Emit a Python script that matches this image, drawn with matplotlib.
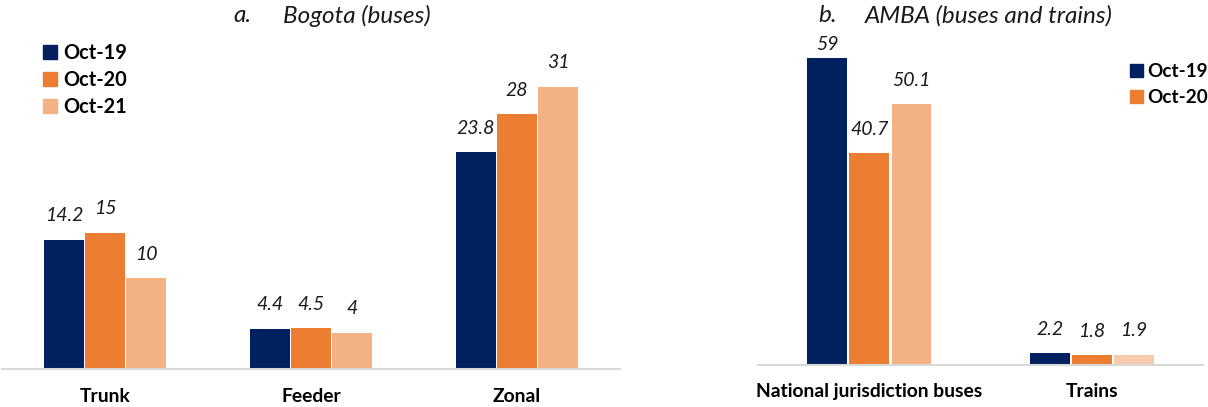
import matplotlib
matplotlib.use("Agg")
import matplotlib.pyplot as plt
import numpy as np
from matplotlib.patches import Patch

plt.rcParams["font.family"] = ["Lato", "DejaVu Sans"]

# Bogota (buses)
bog_categories = ["Trunk", "Feeder", "Zonal"]
bog_oct19 = [14.2, 4.4, 23.8]
bog_oct20 = [15, 4.5, 28]
bog_oct21 = [10, 4, 31]
bog_labels = ["Oct-19", "Oct-20", "Oct-21"]

# AMBA (buses and trains)
amba_categories = ["National jurisdiction buses", "Trains"]
amba_oct19 = [59, 2.2]
amba_oct20 = [40.7, 1.8]
amba_oct21 = [50.1, 1.9]
amba_labels = ["Oct-19", "Oct-20"]

NAVY = "#002060"
ORANGE = "#ED7D31"
PEACH = "#F4B183"
PEACH_LIGHT = "#F8CBAD"

W, H = 1208, 407
fig = plt.figure(figsize=(W / 100, H / 100), dpi=100)


def px_axes(x0, x1, y_top, y_base):
    return fig.add_axes([x0 / W, 1 - y_base / H, (x1 - x0) / W, (y_base - y_top) / H])


def style(ax, pad):
    for s in ["top", "right", "left"]:
        ax.spines[s].set_visible(False)
    ax.spines["bottom"].set_color("#D9D9D9")
    ax.spines["bottom"].set_linewidth(1.5)
    ax.set_yticks([])
    ax.tick_params(axis="x", length=0, pad=pad)
    for t in ax.get_xticklabels():
        t.set_fontweight("bold")
        t.set_fontsize(13.9)


def annotate(ax, xs, vals, offsets=None):
    for i, (x, v) in enumerate(zip(xs, vals)):
        off = 24 if offsets is None else offsets[i]
        ax.annotate(f"{v:g}", (x, v), xytext=(0, off * 0.72), textcoords="offset points",
                    ha="center", va="center", fontsize=14, style="italic", color="#1a1a1a")


legend_kw = dict(loc="upper left", frameon=False,
                 handlelength=0.7, handleheight=0.7,
                 borderaxespad=0, borderpad=0)

# ---- Left panel ----
axL = px_axes(2, 620, 369 - 35 * 9.1, 369)
xL = np.arange(len(bog_categories))
bw, pitch = 0.19, 0.199
axL.bar(xL - pitch, bog_oct19, bw, color=NAVY)
axL.bar(xL, bog_oct20, bw, color=ORANGE)
axL.bar(xL + pitch, bog_oct21, bw, color=PEACH)
axL.set_xlim(-0.5, len(bog_categories) - 0.5)
axL.set_ylim(0, 35)
axL.set_xticks(xL)
axL.set_xticklabels(bog_categories)
style(axL, 14)
annotate(axL, xL - pitch, bog_oct19)
annotate(axL, xL, bog_oct20)
annotate(axL, xL + pitch, bog_oct21)

handlesL = [Patch(color=c) for c in (NAVY, ORANGE, PEACH)]
fig.legend(handlesL, bog_labels, bbox_to_anchor=(43 / W, 1 - 43 / H),
           labelspacing=0.35, handletextpad=0.3,
           prop={"weight": "bold", "size": 14.4}, **legend_kw)

# ---- Right panel ----
ppu = 5.19
axR = px_axes(758, 1203, 364.5 - 65 * ppu, 364.5)
xR = np.arange(len(amba_categories))
bw2, pitch2 = 0.178, 0.189
axR.bar(xR - pitch2, amba_oct19, bw2, color=NAVY)
axR.bar(xR, amba_oct20, bw2, color=ORANGE)
axR.bar(xR + pitch2, amba_oct21, bw2, color=[PEACH, PEACH_LIGHT])
axR.set_xlim(-0.5, len(amba_categories) - 0.5)
axR.set_ylim(0, 65)
axR.set_xticks(xR)
axR.set_xticklabels(amba_categories)
style(axR, 13)
annotate(axR, xR - pitch2, amba_oct19, offsets=[14, 24])
annotate(axR, xR, amba_oct20)
annotate(axR, xR + pitch2, amba_oct21)

handlesR = [Patch(color=c) for c in (NAVY, ORANGE)]
fig.legend(handlesR, amba_labels, bbox_to_anchor=(1130 / W, 1 - 63 / H),
           labelspacing=0.5, handletextpad=0.2,
           prop={"weight": "bold", "size": 13.6}, **legend_kw)

# ---- Titles ----
title_kw = dict(fontsize=17.5, style="italic", color="#1a1a1a", va="center")
fig.text(233 / W, 1 - 16 / H, "a.", ha="left", **title_kw)
fig.text(283 / W, 1 - 16 / H, "Bogota (buses)", ha="left", **title_kw)
fig.text(818 / W, 1 - 16 / H, "b.", ha="left", **title_kw)
fig.text(865 / W, 1 - 16 / H, "AMBA (buses and trains)", ha="left", **title_kw)

fig.savefig("out.png", dpi=100)
